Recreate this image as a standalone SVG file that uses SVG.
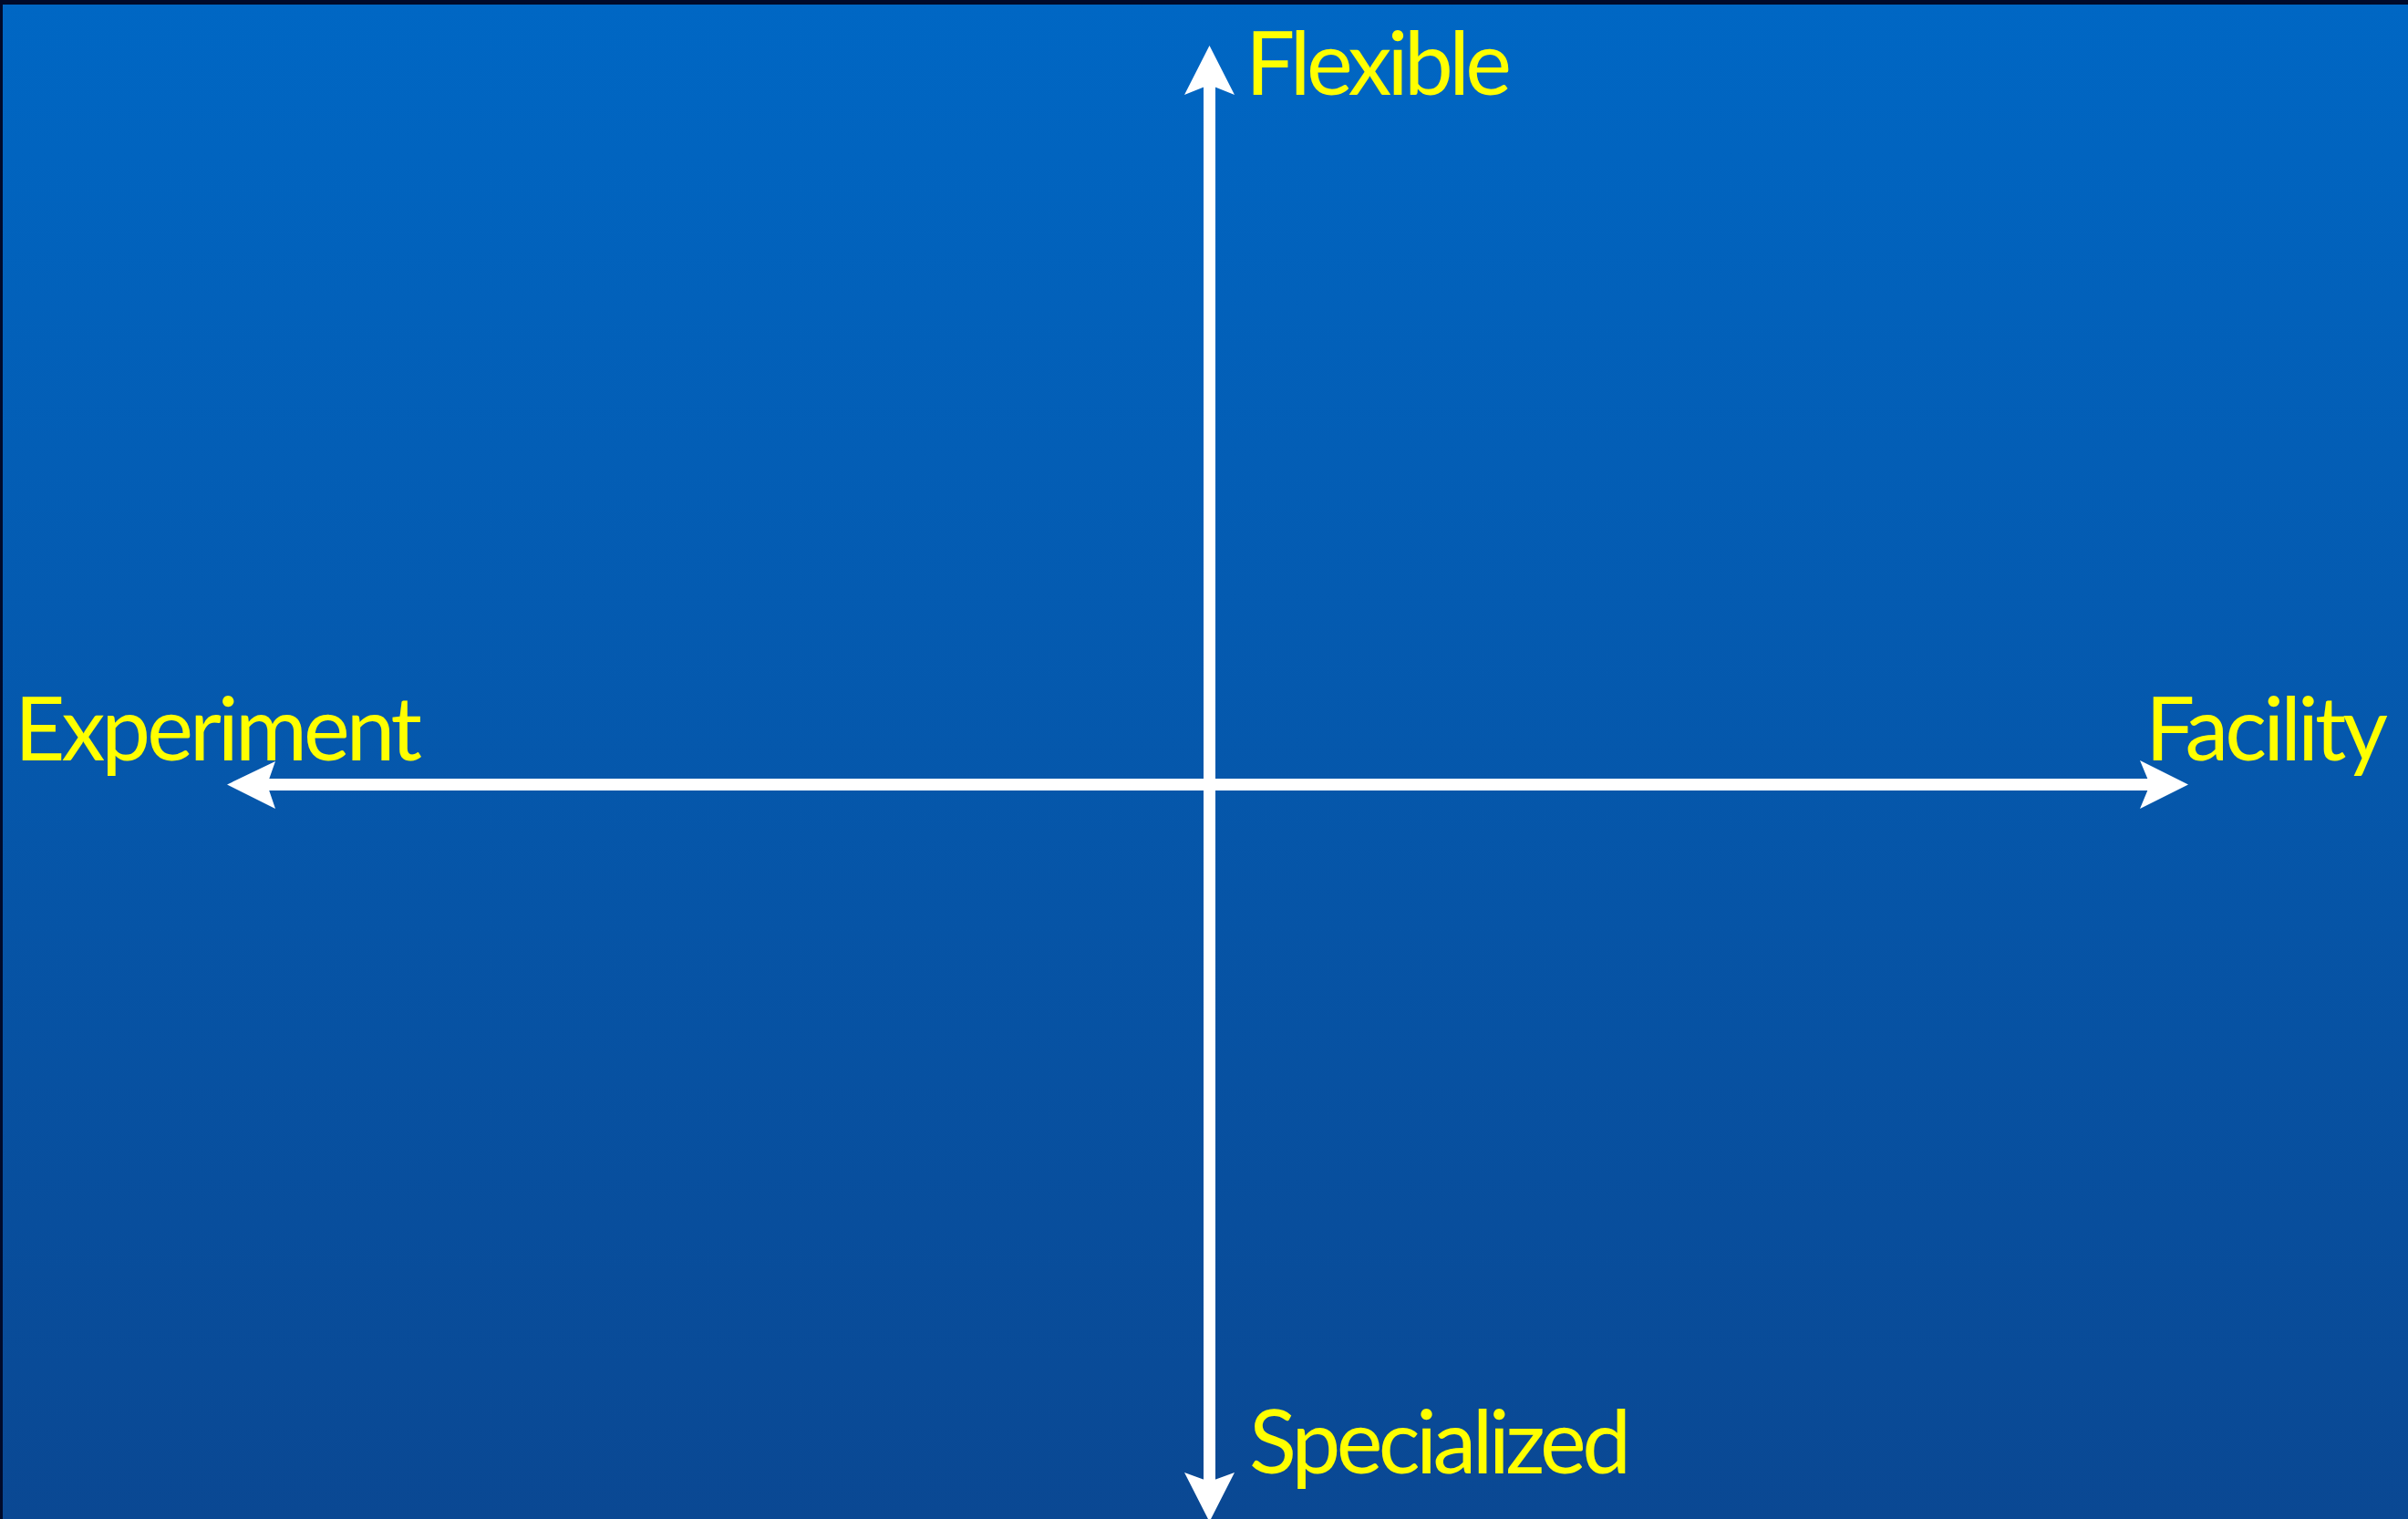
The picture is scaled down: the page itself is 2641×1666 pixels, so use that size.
<svg xmlns="http://www.w3.org/2000/svg" width="2641" height="1666" viewBox="0 0 2641 1666">
<defs>
<linearGradient id="bg" x1="0" y1="0" x2="0" y2="1">
<stop offset="0" stop-color="#0067C4"/>
<stop offset="1" stop-color="#0A4893"/>
</linearGradient>
</defs>
<style>
.lbl{font-family:Lato,"Open Sans","Liberation Sans",sans-serif;font-size:96px;fill:#FFFF00}
.axis{stroke:#FFFFFF;stroke-width:13;fill:none}
.head{fill:#FFFFFF}
</style>
<rect x="0" y="0" width="2641" height="1666" fill="#000A2A"/>
<rect x="3" y="5" width="2638" height="1661" fill="url(#bg)"/>
<g id="connectors">
<line class="axis" x1="1326.5" y1="90" x2="1326.5" y2="1628"/>
<line class="axis" x1="290" y1="860.5" x2="2360" y2="860.5"/>
<polygon class="head" points="1326.5,50 1354,104 1326.5,93 1299,104"/>
<polygon class="head" points="1326.5,1669 1299,1615 1326.5,1625 1354,1615"/>
<polygon class="head" points="249,860.5 302,835 293,860.5 302,887"/>
<polygon class="head" points="2400,860.5 2347,834 2358,860.5 2347,887"/>
</g>
<g id="flexible"><text class="lbl" x="1366" y="104" textLength="292">Flexible</text></g>
<g id="specialized"><text class="lbl" x="1370" y="1616" textLength="419">Specialized</text></g>
<g id="experiment"><text class="lbl" x="16" y="834" textLength="447">Experiment</text></g>
<g id="facility"><text class="lbl" x="2353" y="834" textLength="266">Facility</text></g>
</svg>
